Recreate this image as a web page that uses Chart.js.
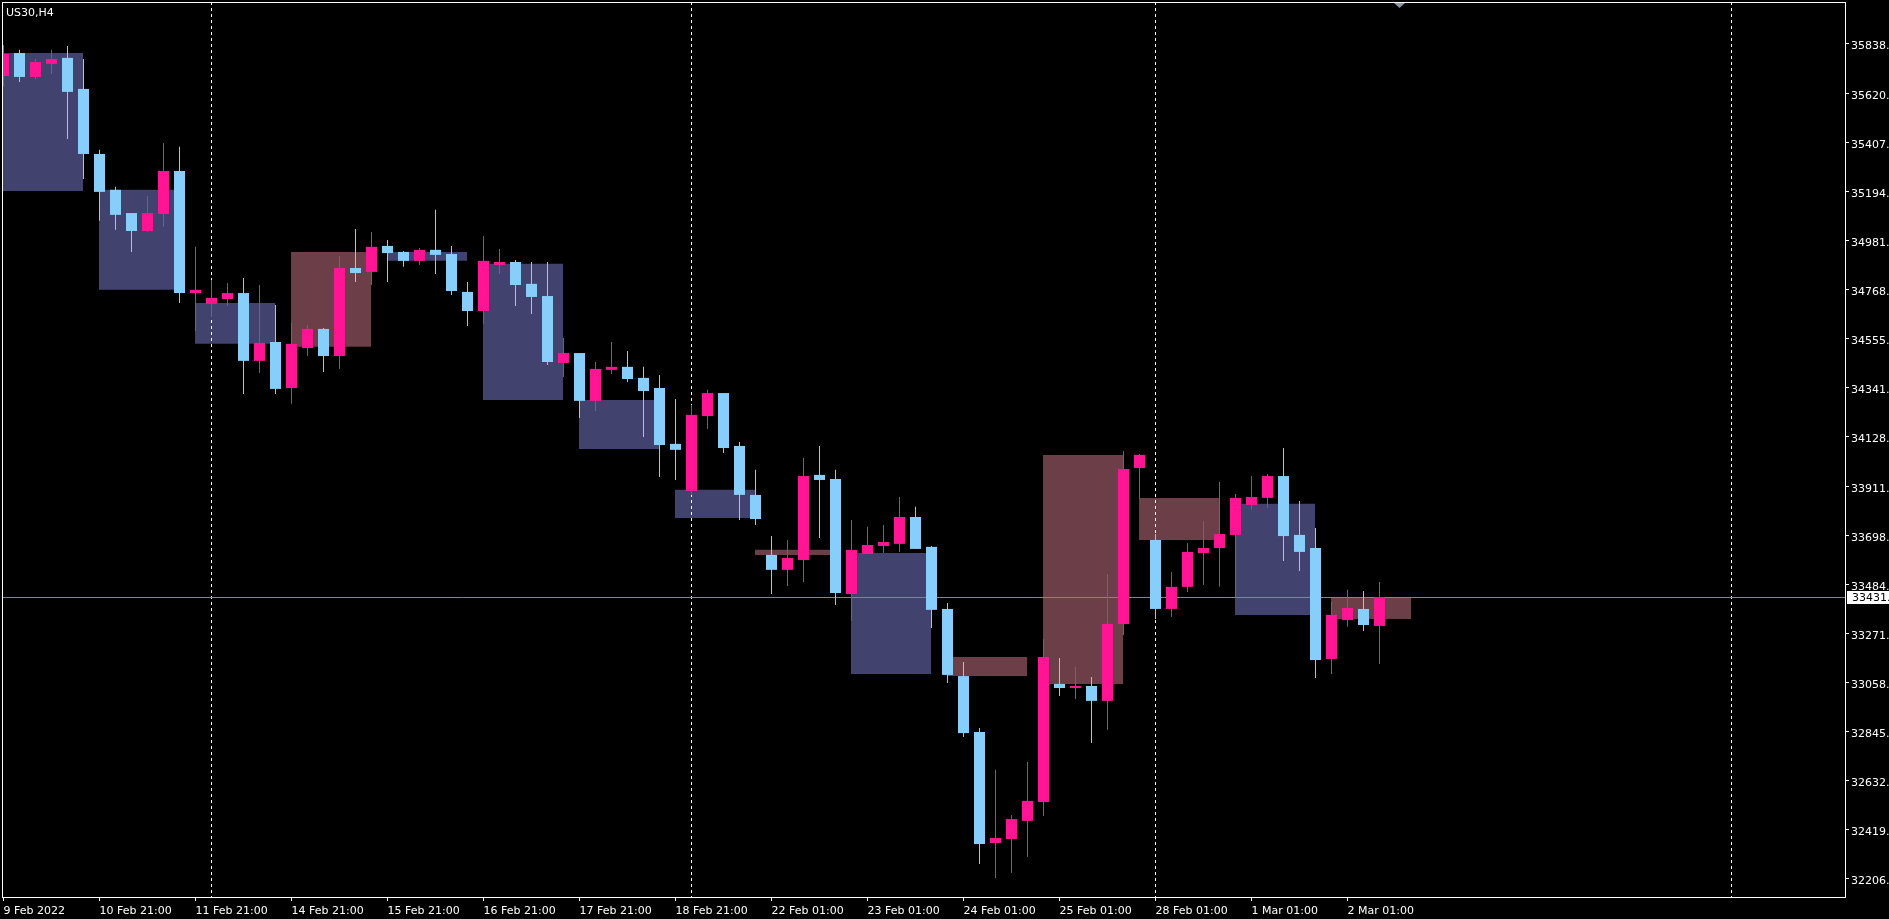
<!DOCTYPE html>
<html>
<head>
<meta charset="utf-8">
<title>US30,H4</title>
<script src="https://cdn.jsdelivr.net/npm/chart.js@4.4.0/dist/chart.umd.min.js"></script>
<style>
  html, body { margin: 0; padding: 0; background: #000; overflow: hidden; }
  #chart { display: block; background: #000; }
</style>
</head>
<body>
<canvas id="chart" width="1889" height="919"></canvas>
<script>
//データ####################################################

// H4 candles, index 0 = 9 Feb 2022
var opens = [
  35696, 35796, 35692, 35749, 35775, 35640, 35357, 35201, 35100, 35022,
  35096, 35283, 34752, 34705, 34726, 34752, 34457, 34539, 34339, 34513,
  34596, 34478, 34861, 34844, 34957, 34931, 34892, 34940, 34922, 34757,
  34674, 34874, 34887, 34792, 34739, 34448, 34491, 34283, 34418, 34431,
  34383, 34339, 34096, 33891, 34217, 34317, 34087, 33874, 33613, 33548,
  33591, 33961, 33943, 33443, 33617, 33652, 33661, 33778, 33648, 33378,
  33086, 32843, 32360, 32377, 32456, 32538, 33052, 33034, 33043, 32978,
  33313, 33991, 33678, 33378, 33474, 33621, 33643, 33700, 33830, 33861,
  33956, 33700, 33643, 33160, 33330, 33378, 33304
];
var highs = [
  35831, 35810, 35770, 35810, 35827, 35770, 35375, 35214, 35100, 35174,
  35405, 35388, 34953, 34809, 34796, 34818, 34787, 34700, 34622, 34613,
  34600, 34913, 35031, 35018, 34983, 34935, 34948, 35114, 34957, 34800,
  35000, 34944, 34896, 34887, 34887, 34557, 34491, 34452, 34539, 34500,
  34431, 34396, 34291, 34265, 34331, 34317, 34104, 33983, 33695, 33678,
  34035, 34087, 33983, 33765, 33735, 33743, 33865, 33822, 33652, 33404,
  33147, 32860, 32678, 32482, 32712, 33247, 33165, 33126, 33082, 33530,
  34065, 34052, 33704, 33539, 33665, 33761, 33930, 33878, 33956, 33965,
  34078, 33848, 33730, 33408, 33461, 33456, 33495
];
var lows = [
  35649, 35670, 35683, 35705, 35422, 35248, 35066, 35027, 34931, 35018,
  35040, 34709, 34587, 34648, 34696, 34313, 34404, 34313, 34270, 34478,
  34409, 34422, 34800, 34787, 34800, 34866, 34874, 34835, 34744, 34609,
  34618, 34835, 34696, 34661, 34439, 34387, 34209, 34239, 34400, 34365,
  34126, 33952, 33939, 33874, 34161, 34056, 33765, 33743, 33443, 33478,
  33495, 33687, 33395, 33326, 33617, 33621, 33626, 33639, 33295, 33056,
  32821, 32269, 32208, 32229, 32299, 32477, 32999, 32986, 32795, 32852,
  33265, 33856, 33334, 33343, 33452, 33482, 33474, 33430, 33809, 33817,
  33587, 33543, 33078, 33095, 33300, 33282, 33139
];
var closes = [
  35792, 35692, 35757, 35770, 35627, 35357, 35192, 35092, 35022, 35100,
  35283, 34752, 34766, 34731, 34752, 34457, 34535, 34335, 34531, 34596,
  34478, 34861, 34839, 34953, 34926, 34892, 34940, 34918, 34761, 34674,
  34892, 34887, 34787, 34735, 34452, 34491, 34283, 34422, 34431, 34378,
  34326, 34091, 34070, 34222, 34317, 34078, 33874, 33769, 33548, 33600,
  33956, 33939, 33447, 33635, 33656, 33669, 33778, 33639, 33374, 33091,
  32838, 32356, 32382, 32464, 32543, 33169, 33034, 33043, 32978, 33313,
  33987, 34048, 33378, 33474, 33626, 33643, 33704, 33861, 33865, 33956,
  33695, 33626, 33156, 33352, 33382, 33308, 33430
];

// daily boxes (open/close of the day), first H4 bar of each box
var boxStart = [0, 6, 12, 18, 24, 30, 36, 42, 47, 53, 59, 65, 71, 77, 83];
var boxOpen  = [35796, 35201, 34709, 34518, 34931, 34879, 34287, 33896, 33613, 33621, 33086, 33052, 33678, 33835, 33334];
var boxClose = [35196, 34766, 34531, 34931, 34892, 34287, 34074, 33774, 33635, 33095, 33169, 34048, 33861, 33352, 33426];

// axis labels
var xTickIdx = [0, 6, 12, 18, 24, 30, 36, 42, 48, 54, 60, 66, 72, 78, 84];
var xLabels = ['9 Feb 2022', '10 Feb 21:00', '11 Feb 21:00', '14 Feb 21:00', '15 Feb 21:00',
  '16 Feb 21:00', '17 Feb 21:00', '18 Feb 21:00', '22 Feb 01:00', '23 Feb 01:00',
  '24 Feb 01:00', '25 Feb 01:00', '28 Feb 01:00', '1 Mar 01:00', '2 Mar 01:00'];
var yTicks = [35838, 35620, 35407, 35194, 34981, 34768, 34555, 34341, 34128,
  33911, 33698, 33484, 33271, 33058, 32845, 32632, 32419, 32206];

// week separators (bar index) and current bid
var separators = [13, 43, 72, 108];
var bidPrice = 33431;
var symbolText = 'US30,H4';


//設定####################################################

var BULL = '#ff1493';
var BEAR = '#87cefa';
var BOX_BULL = '#6b3e48';
var BOX_BEAR = '#42426e';
var FONT = '"DejaVu Sans", sans-serif';

var xMin = -0.09375;
var xMax = 115.09375;
var yMin = 32125;
var yMax = 36018;

Chart.defaults.font.family = FONT;
Chart.defaults.font.size = 11;
Chart.defaults.color = '#ffffff';


//データセット####################################################

var bodyData = [], wickData = [], candleColors = [];
opens.forEach(function(o, i){
  bodyData.push({x: i, y: [o, closes[i]]});
  wickData.push({x: i, y: [lows[i], highs[i]]});
  candleColors.push(closes[i] >= o ? BULL : BEAR);
});

var boxData = [], boxColors = [];
boxStart.forEach(function(s, k){
  boxData.push({x: s + 2.5, y: [boxOpen[k], boxClose[k]]});
  boxColors.push(boxClose[k] >= boxOpen[k] ? BOX_BULL : BOX_BEAR);
});

// grouped:false => each bar sits exactly on its x value, width capped by maxBarThickness
function barSet(label, data, axis, colors, width, order) {
  return {
    label: label,
    data: data,
    xAxisID: axis,
    grouped: false,
    backgroundColor: colors,
    barThickness: width,
    maxBarThickness: width,
    borderWidth: 0,
    inflateAmount: 0,
    order: order
  };
}

// no extra room for half labels at the ends of the axes
function noPad(s) {
  s.paddingTop = 0;
  s.paddingBottom = 0;
  s.paddingLeft = 0;
  s.paddingRight = 0;
}


//オーバーレイ (枠・区切り線・Bid)####################################################

var overlay = {
  id: 'overlay',
  afterDatasetDraw: function(chart, args) {
    if (args.index !== 2) return; // right after the daily boxes
    var ctx = chart.ctx;
    var a = chart.chartArea;
    var xs = chart.scales.x;
    var ys = chart.scales.y;
    ctx.save();
    ctx.beginPath();
    ctx.rect(a.left, a.top, a.right - a.left, a.bottom - a.top);
    ctx.clip();

    ctx.strokeStyle = '#ffffff';
    ctx.lineWidth = 1;
    ctx.setLineDash([3, 3]);
    separators.forEach(function(i){
      var px = Math.floor(xs.getPixelForValue(i)) + 0.5;
      ctx.beginPath();
      ctx.moveTo(px, a.top);
      ctx.lineTo(px, a.bottom);
      ctx.stroke();
    });

    ctx.setLineDash([]);
    ctx.strokeStyle = '#778899';
    var py = Math.round(ys.getPixelForValue(bidPrice)) + 0.5;
    ctx.beginPath();
    ctx.moveTo(a.left, py);
    ctx.lineTo(a.right, py);
    ctx.stroke();
    ctx.restore();
  },
  afterDraw: function(chart) {
    var ctx = chart.ctx;
    var a = chart.chartArea;
    var ys = chart.scales.y;
    ctx.save();

    // frame
    ctx.fillStyle = '#ffffff';
    ctx.fillRect(a.left, a.top, a.right - a.left + 1, 1);
    ctx.fillRect(a.left, a.bottom, a.right - a.left + 1, 1);
    ctx.fillRect(a.left, a.top, 1, a.bottom - a.top);
    ctx.fillRect(a.right, a.top, 1, a.bottom - a.top + 1);

    // symbol
    ctx.font = '11px ' + FONT;
    ctx.textBaseline = 'top';
    ctx.textAlign = 'left';
    ctx.fillText(symbolText, 6, 8);

    // bid label on the price scale
    var py = Math.round(ys.getPixelForValue(bidPrice));
    ctx.fillStyle = '#ffffff';
    ctx.fillRect(a.right + 2, py - 6, 50, 13);
    ctx.fillStyle = '#000000';
    ctx.textBaseline = 'middle';
    ctx.fillText(bidPrice.toFixed(2), a.right + 7, py + 1);

    // shift marker
    ctx.fillStyle = '#8a97a8';
    ctx.beginPath();
    ctx.moveTo(1394, a.top + 1);
    ctx.lineTo(1405, a.top + 1);
    ctx.lineTo(1399.5, a.top + 6);
    ctx.closePath();
    ctx.fill();
    ctx.restore();
  }
};


//チャート####################################################

var ctx = document.getElementById('chart').getContext('2d');
var myChart = new Chart(ctx, {
  type: 'bar',
  data: {
    datasets: [
      barSet('body', bodyData, 'x', candleColors, 11, 0),
      barSet('wick', wickData, 'xw', candleColors, 1, 1),
      barSet('day', boxData, 'xb', boxColors, 80, 2)
    ]
  },
  options: {
    responsive: false,
    animation: false,
    events: [],
    layout: { padding: { top: 2, left: 2, right: 0, bottom: 0 } },
    plugins: {
      legend: { display: false },
      tooltip: { enabled: false }
    },
    scales: {
      x: {
        type: 'linear',
        position: 'bottom',
        min: xMin,
        max: xMax,
        offset: false,
        afterBuildTicks: function(s){
          s.ticks = xTickIdx.map(function(v){ return {value: v}; });
        },
        afterFit: function(s){ s.height = 22; noPad(s); },
        grid: { offset: false, drawOnChartArea: false, drawTicks: true, tickLength: 4, color: '#ffffff' },
        border: { display: false },
        ticks: {
          autoSkip: false,
          maxRotation: 0,
          align: 'start',
          labelOffset: 0,
          padding: 4,
          color: '#ffffff',
          callback: function(v, i){ return xLabels[i]; }
        }
      },
      xw: {
        type: 'linear',
        display: false,
        min: xMin,
        max: xMax,
        offset: false,
        grid: { offset: false }
      },
      xb: {
        type: 'linear',
        display: false,
        min: xMin + 0.03125,
        max: xMax + 0.03125,
        offset: false,
        grid: { offset: false }
      },
      y: {
        type: 'linear',
        position: 'right',
        stacked: false,
        min: yMin,
        max: yMax,
        afterBuildTicks: function(s){
          s.ticks = yTicks.map(function(v){ return {value: v}; });
        },
        afterFit: function(s){ s.width = 44; noPad(s); },
        grid: { drawOnChartArea: false, drawTicks: true, tickLength: 4, color: '#ffffff' },
        border: { display: false },
        ticks: {
          autoSkip: false,
          padding: 2,
          labelOffset: 3,
          color: '#ffffff',
          callback: function(v){ return v.toFixed(2); }
        }
      }
    }
  },
  plugins: [overlay]
});
</script>
</body>
</html>
